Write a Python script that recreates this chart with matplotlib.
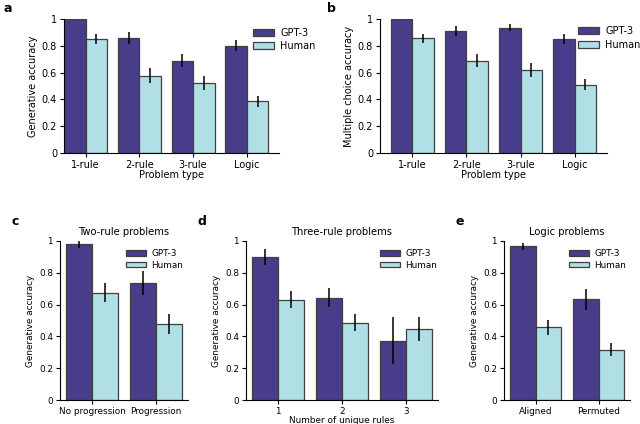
import matplotlib
matplotlib.use("Agg")
import matplotlib.pyplot as plt
import numpy as np

# ---- data ----
a_cats = ["1-rule", "2-rule", "3-rule", "Logic"]
a_gpt = [1.0, 0.855, 0.69, 0.80]
a_gpt_err = [0.0, 0.045, 0.047, 0.04]
a_hum = [0.85, 0.578, 0.524, 0.385]
a_hum_err = [0.04, 0.053, 0.052, 0.04]

b_cats = ["1-rule", "2-rule", "3-rule", "Logic"]
b_gpt = [1.0, 0.913, 0.933, 0.849]
b_gpt_err = [0.0, 0.037, 0.026, 0.037]
b_hum = [0.856, 0.69, 0.62, 0.511]
b_hum_err = [0.033, 0.048, 0.052, 0.042]

c_cats = ["No progression", "Progression"]
c_gpt = [0.979, 0.736]
c_gpt_err = [0.026, 0.077]
c_hum = [0.676, 0.481]
c_hum_err = [0.059, 0.063]

d_cats = ["1", "2", "3"]
d_gpt = [0.90, 0.642, 0.374]
d_gpt_err = [0.052, 0.06, 0.15]
d_hum = [0.63, 0.485, 0.444]
d_hum_err = [0.053, 0.054, 0.075]

e_cats = ["Aligned", "Permuted"]
e_gpt = [0.967, 0.634]
e_gpt_err = [0.023, 0.066]
e_hum = [0.456, 0.316]
e_hum_err = [0.046, 0.041]

GPT_COLOR = "#483D8B"
HUM_COLOR = "#B0E0E6"
EDGE = "0.25"

W, H = 640, 424
fig = plt.figure(figsize=(W / 100, H / 100), dpi=100)
plt.rcParams['font.family'] = ['DejaVu Sans']


def make_ax(l, r, t, b):
    return fig.add_axes([l / W, 1 - b / H, (r - l) / W, (b - t) / H])


def draw(ax, cats, gpt, gpt_err, hum, hum_err, xlim, ylabel, xlabel=None,
         title=None, legend_anchor=None, fs=7, lspace=0.35, hh=0.7):
    x = np.arange(len(cats))
    w = 0.4
    ax.bar(x - w / 2, gpt, w, color=GPT_COLOR, edgecolor=EDGE, linewidth=0.9,
           label="GPT-3")
    ax.bar(x + w / 2, hum, w, color=HUM_COLOR, edgecolor=EDGE, linewidth=0.9,
           label="Human")
    ax.errorbar(x - w / 2, gpt, yerr=gpt_err, fmt="none", ecolor="black",
                elinewidth=1.1, capsize=0)
    ax.errorbar(x + w / 2, hum, yerr=hum_err, fmt="none", ecolor="black",
                elinewidth=1.1, capsize=0)
    ax.set_xlim(*xlim)
    ax.set_ylim(0, 1)
    ax.set_yticks([0, 0.2, 0.4, 0.6, 0.8, 1.0])
    ax.set_yticklabels(["0", "0.2", "0.4", "0.6", "0.8", "1"])
    ax.set_xticks(x)
    ax.set_xticklabels(cats)
    ax.tick_params(labelsize=fs, length=3, width=0.8, pad=2)
    for s in ["top", "right"]:
        ax.spines[s].set_visible(False)
    for s in ["left", "bottom"]:
        ax.spines[s].set_linewidth(0.8)
    ax.set_ylabel(ylabel, fontsize=fs, labelpad=3)
    if xlabel:
        ax.set_xlabel(xlabel, fontsize=fs, labelpad=0)
    if title:
        ax.set_title(title, fontsize=7.2, pad=4)
    ax.legend(loc="upper left", bbox_to_anchor=legend_anchor, frameon=False,
              fontsize=fs, handlelength=2.2, handleheight=hh,
              borderaxespad=0, labelspacing=lspace, handletextpad=0.6)


ax_a = make_ax(64, 279, 19, 153)
draw(ax_a, a_cats, a_gpt, a_gpt_err, a_hum, a_hum_err, (-0.4, 3.6),
     "Generative accuracy", "Problem type", legend_anchor=(0.86, 0.965))

ax_b = make_ax(380, 607, 19, 153)
draw(ax_b, b_cats, b_gpt, b_gpt_err, b_hum, b_hum_err, (-0.6, 3.6),
     "Multiple choice accuracy", "Problem type", legend_anchor=(0.855, 0.975))

ax_c = make_ax(60, 188, 241, 400)
draw(ax_c, c_cats, c_gpt, c_gpt_err, c_hum, c_hum_err, (-0.5, 1.5),
     "Generative accuracy", None, title="Two-rule problems",
     legend_anchor=(0.49, 0.97), fs=6.4, lspace=0.25, hh=0.6)

ax_d = make_ax(246, 438, 241, 400)
draw(ax_d, d_cats, d_gpt, d_gpt_err, d_hum, d_hum_err, (-0.5, 2.5),
     "Generative accuracy", "Number of unique rules", title="Three-rule problems",
     legend_anchor=(0.68, 0.97), fs=6.4, lspace=0.25, hh=0.6)

ax_e = make_ax(504, 630, 241, 400)
draw(ax_e, e_cats, e_gpt, e_gpt_err, e_hum, e_hum_err, (-0.5, 1.5),
     "Generative accuracy", None, title="Logic problems",
     legend_anchor=(0.49, 0.97), fs=6.4, lspace=0.25, hh=0.6)

for letter, px, py in [("a", 3, 12), ("b", 327, 12), ("c", 11, 225),
                       ("d", 198, 225), ("e", 455, 225)]:
    fig.text(px / W, 1 - py / H, letter, fontsize=9, fontweight="bold",
             va="baseline", ha="left")

fig.savefig("out.png", dpi=100)
